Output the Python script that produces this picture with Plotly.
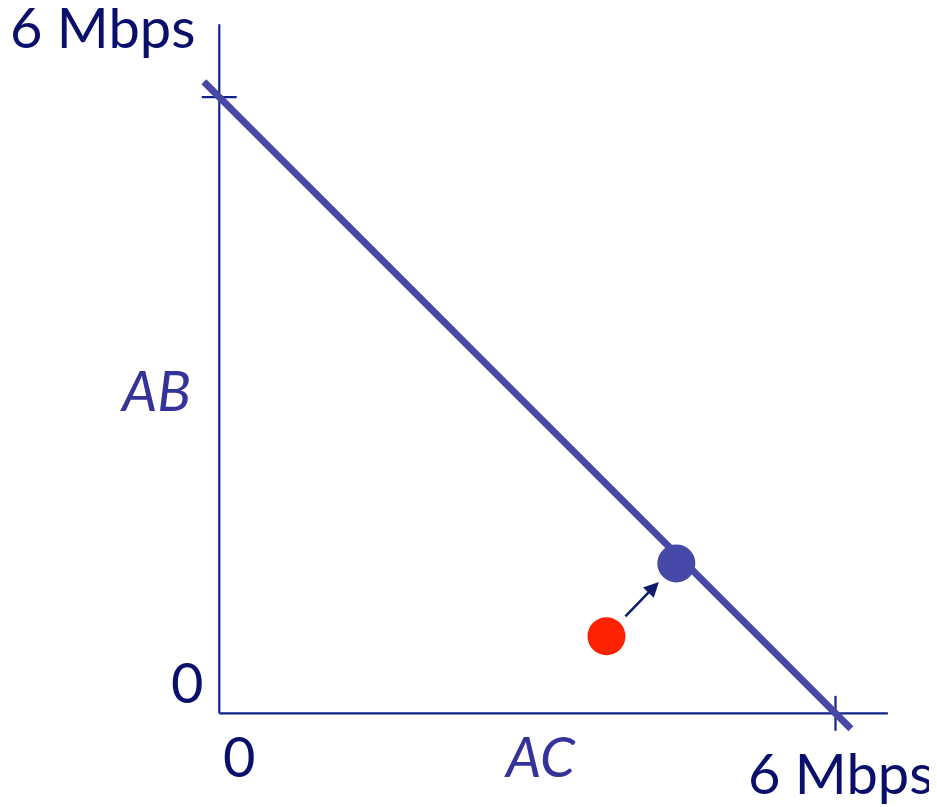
import plotly.graph_objects as go

# Data (units: Mbps)
line_x = [-0.15, 6.15]
line_y = [6.15, -0.15]
blue_pt = (4.45, 1.46)
red_pt = (3.77, 0.75)
arrow_tail = (3.94, 0.93)
arrow_head = (4.28, 1.28)
axis_max = 6
x_axis_end = 6.51
y_axis_end = 6.71
tick_half = 0.17

NAVY = "#0a0f6b"
AXIS = "#112288"
LINE = "#4848a8"

fig = go.Figure()

# axis lines and ticks (data coordinates)
fig.add_trace(go.Scatter(x=[0, 0], y=[0, y_axis_end], mode="lines",
                         line=dict(color=AXIS, width=2.2), hoverinfo="skip", showlegend=False))
fig.add_trace(go.Scatter(x=[0, x_axis_end], y=[0, 0], mode="lines",
                         line=dict(color=AXIS, width=2.2), hoverinfo="skip", showlegend=False))
fig.add_trace(go.Scatter(x=[-tick_half, tick_half], y=[axis_max, axis_max], mode="lines",
                         line=dict(color=AXIS, width=2.2), hoverinfo="skip", showlegend=False))
fig.add_trace(go.Scatter(x=[axis_max, axis_max], y=[-tick_half, tick_half], mode="lines",
                         line=dict(color=AXIS, width=2.2), hoverinfo="skip", showlegend=False))

# capacity line
fig.add_trace(go.Scatter(x=line_x, y=line_y, mode="lines",
                         line=dict(color=LINE, width=7), hoverinfo="skip", showlegend=False))

# points
fig.add_trace(go.Scatter(x=[blue_pt[0]], y=[blue_pt[1]], mode="markers",
                         marker=dict(color="#4649a8", size=38, line=dict(width=0)),
                         showlegend=False))
fig.add_trace(go.Scatter(x=[red_pt[0]], y=[red_pt[1]], mode="markers",
                         marker=dict(color="#ff2200", size=38, line=dict(width=0)),
                         showlegend=False))

fig.add_annotation(x=arrow_head[0], y=arrow_head[1], ax=arrow_tail[0], ay=arrow_tail[1],
                   xref="x", yref="y", axref="x", ayref="y", text="",
                   showarrow=True, arrowhead=2, arrowsize=1.2, arrowwidth=2.5,
                   arrowcolor="#0a1a6e")

FONT = "Lato, 'Noto Sans', sans-serif"

def label(x, y, txt, color=NAVY, italic=False):
    t = f"<i>{txt}</i>" if italic else txt
    fig.add_annotation(x=x, y=y, xref="x", yref="y", text=t, showarrow=False,
                       font=dict(family=FONT, size=56, color=color),
                       xanchor="center", yanchor="middle")

label(-1.14, 6.69, "6 Mbps")
label(-0.31, 0.31, "0")
label(0.19, -0.41, "0")
label(-0.62, 3.15, "AB", color="#333399", italic=True)
label(3.12, -0.41, "AC", color="#333399", italic=True)
label(6.05, -0.58, "6 Mbps")

fig.update_layout(
    width=937, height=807, autosize=False,
    margin=dict(l=0, r=0, t=0, b=0),
    paper_bgcolor="white", plot_bgcolor="white",
    xaxis=dict(range=[-2.057, 7.066], visible=False, fixedrange=True),
    yaxis=dict(range=[-0.990, 6.868], visible=False, fixedrange=True),
)

fig.write_html("out.html")
